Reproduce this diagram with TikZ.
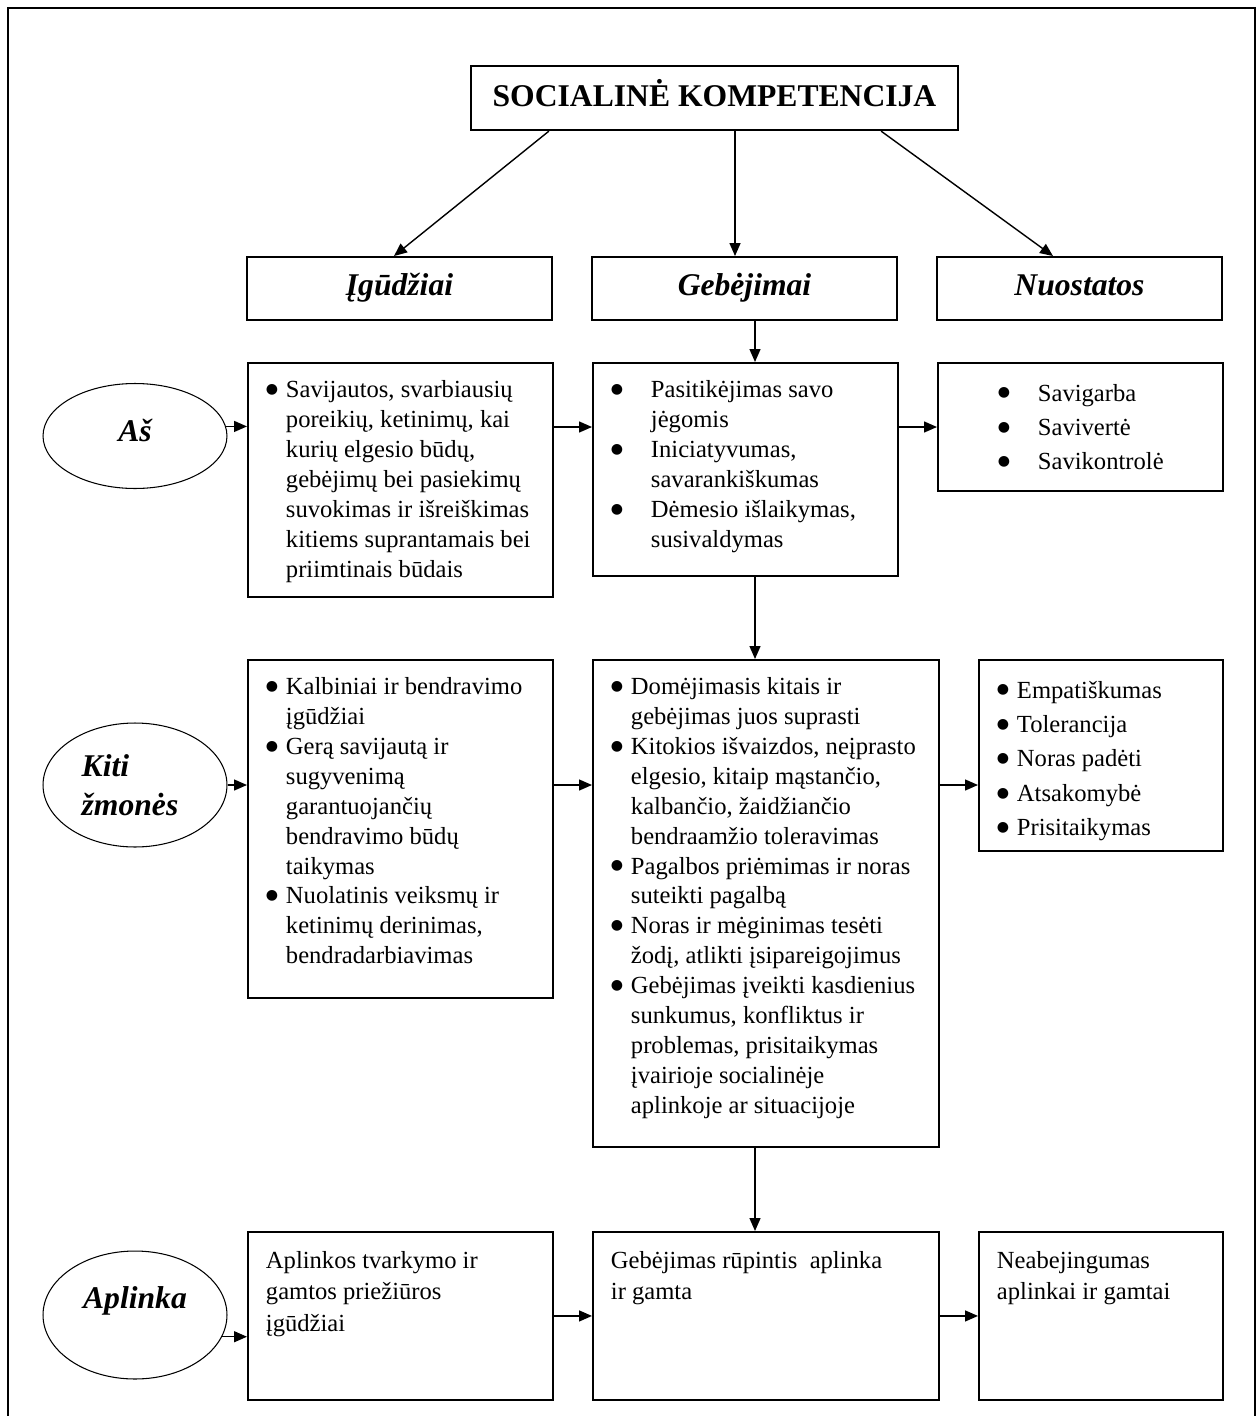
\documentclass[tikz,border=0pt]{standalone}
\usepackage{fontspec}
\setmainfont{Liberation Serif}
\newfontfamily\simboliai{DejaVu Sans}
\usetikzlibrary{shapes.geometric,arrows.meta}

% punktas: #1 taško atitraukimas, #2 teksto atitraukimas
\newcommand{\taskas}{\raisebox{2.4pt}{\simboliai\fontsize{8}{8}\selectfont ●}}
\newcommand{\pkt}[3]{\par\noindent\hangindent=#2\hangafter=1\hspace*{#1}\makebox[\dimexpr#2-#1\relax][l]{\taskas}\strut#3\par}
\newcommand{\turinys}[3]{\parbox[t][#2][t]{#1}{\leftskip=0.36cm\parskip=0pt #3}}

\begin{document}
\begin{tikzpicture}[x=0.02cm,y=-0.02cm,
    langelis/.style={draw,line width=1.1pt,inner xsep=0pt,inner ysep=0.28cm,anchor=north west,font=\fontsize{14}{17}\selectfont},
    antraste/.style={draw,line width=1.1pt,minimum height=1.26cm,text height=0.45cm,text depth=0.19cm,font=\fontsize{18}{22}\selectfont\bfseries\itshape},
    sritis/.style={draw,ellipse,line width=0.6pt,minimum width=3.68cm,inner sep=0pt,font=\fontsize{18}{22}\selectfont\bfseries\itshape},
    rodykle/.style={-{Triangle[length=0.26cm,width=0.22cm]},line width=0.8pt}]
\useasboundingbox (0,0) rectangle (1260,1416);
\draw[line width=1.6pt] (8,1430) -- (8,8) -- (1255,8) -- (1255,1430);

\node[draw,line width=1.3pt,minimum width=9.74cm,minimum height=1.28cm,text height=0.5cm,text depth=0.14cm,font=\fontsize{18}{22}\selectfont\bfseries] (soc) at (714.5,98) {SOCIALINĖ KOMPETENCIJA};

\node[antraste,minimum width=6.1cm] (igud) at (399.5,288.5) {Įgūdžiai};
\node[antraste,minimum width=6.1cm] (geb) at (744.5,288.5) {Gebėjimai};
\node[antraste,minimum width=5.7cm] (nuo) at (1079.5,288.5) {Nuostatos};

% srities elipsės
\node[sritis,minimum height=2.1cm,text height=0.45cm,text depth=0.25cm] (as) at (135,436) {Aš};
\node[sritis,minimum height=2.48cm,align=left] (kiti) at (135,785) {Kiti\\žmonės\hspace*{0.2cm}};
\node[sritis,minimum height=2.56cm,text height=0.45cm,text depth=0.73cm] (aplinka) at (135,1315) {Aplinka};

% 1 eilė
\node[langelis] (b11) at (247,362) {\turinys{6.1cm}{4.12cm}{%
  \pkt{0cm}{0.4cm}{Savijautos, svarbiausių\\poreikių, ketinimų, kai\\kurių elgesio būdų,\\gebėjimų bei pasiekimų\\suvokimas ir išreiškimas\\kitiems suprantamais bei\\priimtinais būdais}}};
\node[langelis] (b12) at (592,362) {\turinys{6.1cm}{3.70cm}{%
  \pkt{0cm}{0.8cm}{Pasitikėjimas savo\\jėgomis}
  \pkt{0cm}{0.8cm}{Iniciatyvumas,\\savarankiškumas}
  \pkt{0cm}{0.8cm}{Dėmesio išlaikymas,\\susivaldymas}}};
\node[langelis] (b13) at (937,362) {\turinys{5.7cm}{2.0cm}{\fontsize{14}{19.6}\selectfont
  \pkt{0.84cm}{1.64cm}{Savigarba}
  \pkt{0.84cm}{1.64cm}{Savivertė}
  \pkt{0.84cm}{1.64cm}{Savikontrolė}}};

% 2 eilė
\node[langelis] (b21) at (247,659) {\turinys{6.1cm}{6.2cm}{%
  \pkt{0cm}{0.4cm}{Kalbiniai ir bendravimo\\įgūdžiai}
  \pkt{0cm}{0.4cm}{Gerą savijautą ir\\sugyvenimą\\garantuojančių\\bendravimo būdų\\taikymas}
  \pkt{0cm}{0.4cm}{Nuolatinis veiksmų ir\\ketinimų derinimas,\\bendradarbiavimas}}};
\node[langelis] (b22) at (592,659) {\turinys{6.92cm}{9.18cm}{%
  \pkt{0cm}{0.4cm}{Domėjimasis kitais ir\\gebėjimas juos suprasti}
  \pkt{0cm}{0.4cm}{Kitokios išvaizdos, neįprasto\\elgesio, kitaip mąstančio,\\kalbančio, žaidžiančio\\bendraamžio toleravimas}
  \pkt{0cm}{0.4cm}{Pagalbos priėmimas ir noras\\suteikti pagalbą}
  \pkt{0cm}{0.4cm}{Noras ir mėginimas tesėti\\žodį, atlikti įsipareigojimus}
  \pkt{0cm}{0.4cm}{Gebėjimas įveikti kasdienius\\sunkumus, konfliktus ir\\problemas, prisitaikymas\\įvairioje socialinėje\\aplinkoje ar situacijoje}}};
\node[langelis] (b23) at (978,659) {\turinys{4.88cm}{3.26cm}{\fontsize{14}{19.6}\selectfont
  \pkt{0cm}{0.4cm}{Empatiškumas}
  \pkt{0cm}{0.4cm}{Tolerancija}
  \pkt{0cm}{0.4cm}{Noras padėti}
  \pkt{0cm}{0.4cm}{Atsakomybė}
  \pkt{0cm}{0.4cm}{Prisitaikymas}}};

% 3 eilė
\node[langelis] (b31) at (247,1231) {\turinys{6.1cm}{2.8cm}{\fontsize{14}{18}\selectfont
  \noindent\strut Aplinkos tvarkymo ir\\gamtos priežiūros\\įgūdžiai}};
\node[langelis] (b32) at (592,1231) {\turinys{6.92cm}{2.8cm}{\fontsize{14}{18}\selectfont
  \noindent\strut Gebėjimas rūpintis\ \ aplinka\\ir gamta}};
\node[langelis] (b33) at (978,1231) {\turinys{4.88cm}{2.8cm}{\fontsize{14}{18}\selectfont
  \noindent\strut Neabejingumas\\aplinkai ir gamtai}};

% rodyklės
\coordinate (asis) at (755,320);
\coordinate (r1) at (0,427);
\draw[rodykle] ([xshift=1.58cm]soc.south west) -- ([xshift=-0.11cm]igud.north);
\draw[rodykle] ([xshift=-0.19cm]geb.north |- soc.south) -- ([xshift=-0.19cm]geb.north);
\draw[rodykle] ([xshift=-1.56cm]soc.south east) -- ([xshift=-0.53cm]nuo.north);
\draw[rodykle] (asis |- geb.south) -- (asis |- b12.north);
\draw[rodykle] (asis |- b12.south) -- (asis |- b22.north);
\draw[rodykle] (asis |- b22.south) -- (asis |- b32.north);

\draw[rodykle] (as.6) -- (as.6 -| b11.west);
\draw[rodykle] (r1 -| b11.east) -- (r1 -| b12.west);
\draw[rodykle] (r1 -| b12.east) -- (r1 -| b13.west);

\draw[rodykle] (kiti.east) -- (kiti.east -| b21.west);
\draw[rodykle] (kiti.east -| b21.east) -- (kiti.east -| b22.west);
\draw[rodykle] (kiti.east -| b22.east) -- (kiti.east -| b23.west);

\draw[rodykle] (aplinka.-14) -- (aplinka.-14 -| b31.west);
\draw[rodykle] (b31.east) -- (b32.west);
\draw[rodykle] (b32.east) -- (b33.west);
\end{tikzpicture}
\end{document}
